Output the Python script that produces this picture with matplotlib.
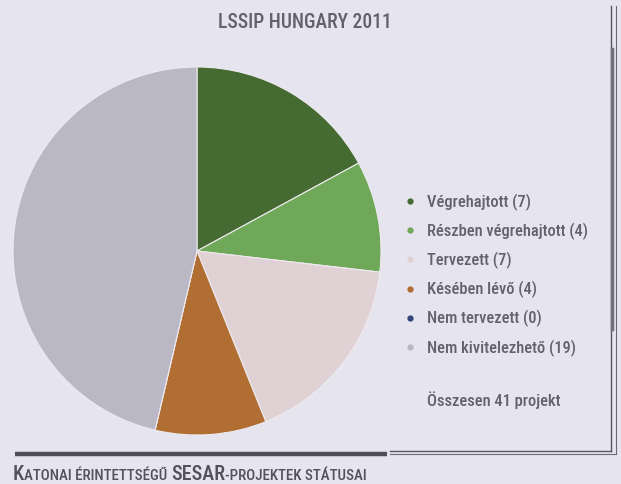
import matplotlib

matplotlib.use("Agg")
import matplotlib.pyplot as plt
from matplotlib import font_manager

# data
labels = [
    "Végrehajtott",
    "Részben végrehajtott",
    "Tervezett",
    "Késében lévő",
    "Nem tervezett",
    "Nem kivitelezhető",
]
counts = [7, 4, 7, 4, 0, 19]
colors = ["#456b32", "#70a859", "#e0d2d4", "#b06e32", "#34447e", "#bab8c5"]
title = "LSSIP HUNGARY 2011"
total_text = "Összesen 41 projekt"

W, H = 621, 485
BG = "#e6e4ee"
TXT = "#62626f"


def pick_font():
    """Narrowest installed sans we can find, else DejaVu Sans condensed."""
    have = {f.name for f in font_manager.fontManager.ttflist}
    for name in ["Roboto Condensed", "Liberation Sans Narrow",
                 "Open Sans Condensed"]:
        if name in have:
            return dict(family=[name, "DejaVu Sans"])
    return dict(family=["DejaVu Sans"], stretch="condensed")


FONT = pick_font()

fig = plt.figure(figsize=(W / 100, H / 100), dpi=100, facecolor=BG)
ax = fig.add_axes([0, 0, 1, 1])
ax.set_facecolor(BG)
renderer = fig.canvas.get_renderer()


def fit_size(s, width, **kw):
    """Font size at which `s` spans `width` pixels."""
    t = ax.text(0, 0, s, fontsize=10, **FONT, **kw)
    w = t.get_window_extent(renderer).width
    t.remove()
    return 10 * width / w


# pie, clockwise from 12 o'clock (pixel coords, y flipped)
cx, cy, r = 197, H - 252, 184
ax.pie(
    counts,
    colors=colors,
    startangle=90,
    counterclock=False,
    center=(cx, cy),
    radius=r,
    wedgeprops=dict(edgecolor="#eeeaf0", linewidth=0.8),
)
ax.set_xlim(0, W)
ax.set_ylim(0, H)
ax.set_aspect("auto")
ax.axis("off")

ax.text(305, H - 22, title, ha="center", va="center", color=TXT,
        fontweight="medium", fontsize=fit_size(title, 173, fontweight="medium"),
        **FONT)

# legend entries
leg_fs = fit_size(f"{labels[0]} ({counts[0]})", 104, fontweight="medium")
for i, (lab, n, c) in enumerate(zip(labels, counts, colors)):
    y = 202 + i * 29.2
    ax.plot(410, H - y, "o", ms=4.5, color=c, mec="none")
    ax.text(427, H - y, f"{lab} ({n})", ha="left", va="center", color=TXT,
            fontweight="medium", fontsize=leg_fs, **FONT)
ax.text(427, H - 400, total_text, ha="left", va="center", color=TXT,
        fontweight="medium", fontsize=leg_fs, **FONT)

# frame lines
ax.plot([611, 611], [H - 7, H - 452], color="#55555f", lw=1.0)
ax.plot([616, 616], [H - 7, H - 455], color="#6a6a74", lw=0.8)
ax.plot([612, 612], [H - 50, H - 330], color="#70707a", lw=2.5)
ax.plot([390, 611], [H - 452, H - 452], color="#55555f", lw=1.0)
ax.plot([390, 616], [H - 455, H - 455], color="#6a6a74", lw=0.8)
ax.plot([15, 387], [H - 455, H - 455], color="#4e4e5a", lw=3.2,
        solid_capstyle="butt")

# caption in small caps style
pieces = [("K", 14.5), ("ATONAI ÉRINTETTSÉGŰ ", 10.8), ("SESAR", 14.5),
          ("-PROJEKTEK STÁTUSAI", 10.8)]
x = 13
for s, fs in pieces:
    t = ax.text(x, H - 480, s, ha="left", va="baseline", fontsize=fs,
                color="#52525f", fontweight="medium", **FONT)
    x += t.get_window_extent(renderer).width

fig.savefig("out.png", dpi=100, facecolor=BG)
